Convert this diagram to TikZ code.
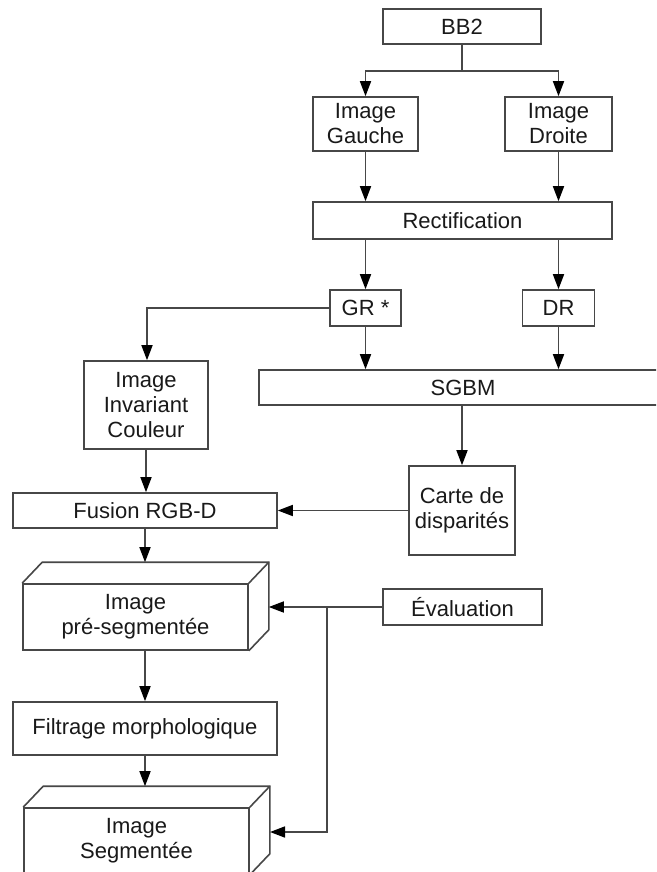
\documentclass[tikz,border=0pt]{standalone}
\usepackage{fontspec}
\setmainfont{Liberation Sans}
\usetikzlibrary{arrows.meta,calc}
\begin{document}
\begin{tikzpicture}[x=1pt,y=-1pt,
  box/.style={draw=black!72,line width=1.6pt,rectangle,inner sep=0pt,align=center,
    font=\fontsize{22}{25}\selectfont,text=black!90},
  arr/.style={draw=black!72,line width=1.6pt,-{Triangle[length=15pt,width=11pt,fill=black,color=black]}},
  ln/.style={draw=black!72,line width=1.6pt}]
\useasboundingbox (0,0) rectangle (656,872);
\clip (0,0) rectangle (656,872);
\fill[white] (0,0) rectangle (656,872);

\node[box,minimum width=158pt,minimum height=35pt] (bb2) at (462,26.5) {BB2};
\node[box,minimum width=105pt,minimum height=54pt] (ig) at (365.5,124) {Image\\Gauche};
\node[box,minimum width=107pt,minimum height=54pt] (id) at (558.5,124) {Image\\Droite};
\node[box,minimum width=299pt,minimum height=37pt] (rect) at (462.5,220.5) {Rectification};
\node[box,minimum width=71pt,minimum height=36pt] (gr) at (365.5,308) {GR *};
\node[box,minimum width=72pt,minimum height=36pt] (dr) at (558.5,308) {DR};
\node[box,minimum width=408pt,minimum height=35pt] (sgbm) at (463,387.5) {SGBM};
\node[box,minimum width=124pt,minimum height=88pt] (iic) at (146,405) {Image\\Invariant\\Couleur};
\node[box,minimum width=106pt,minimum height=89pt] (carte) at (462,510.5) {Carte de\\disparités};
\node[box,minimum width=264pt,minimum height=35pt] (fus) at (145,510.5) {Fusion RGB-D};
\node[box,minimum width=225pt,minimum height=66pt] (pre) at (135.5,617) {Image\\pré-segmentée};
\node[box,minimum width=159pt,minimum height=36pt] (eval) at (462.5,607) {Évaluation};
\node[box,minimum width=264pt,minimum height=53pt] (filt) at (145,728.5) {Filtrage morphologique};
\node[box,minimum width=225pt,minimum height=66pt] (seg) at (136.5,841) {Image\\Segmentée};

% 3D faces
\foreach \n in {pre,seg}{
  \draw[ln,line join=miter] (\n.north west) -- ([shift={(20,-21)}]\n.north west) -- ([shift={(20,-21)}]\n.north east) -- ([shift={(20,-21)}]\n.south east) -- (\n.south east);
  \draw[ln] (\n.north east) -- ([shift={(20,-21)}]\n.north east);
}
\coordinate (pretop) at ([shift={(20,-21)}]pre.north east);
\coordinate (segtop) at ([shift={(20,-21)}]seg.north east);
\coordinate (split) at (462,71);
\coordinate (jn) at (327,607);
\coordinate (segin) at (270,832);
\coordinate (grcorner) at (147,308);

\draw[ln] (bb2.south) -- (split);
\draw[arr] (split) -| (ig.north);
\draw[arr] (split) -| (id.north);
\draw[arr] (ig.south) -- (ig.south |- rect.north);
\draw[arr] (id.south) -- (id.south |- rect.north);
\draw[arr] (ig.south |- rect.south) -- (gr.north);
\draw[arr] (dr.north |- rect.south) -- (dr.north);
\draw[arr] (gr.south) -- (gr.south |- sgbm.north);
\draw[arr] (dr.south) -- (dr.south |- sgbm.north);
\draw[arr] (gr.west) -- (grcorner) -- (grcorner |- iic.north);
\draw[arr] (sgbm.south -| carte.north) -- (carte.north);
\draw[arr] (carte.west) -- (fus.east |- carte.west);
\draw[arr] (iic.south) -- (iic.south |- fus.north);
\draw[arr] (fus.south) -- (fus.south |- pretop);
\draw[arr] (eval.west) -- (eval.west -| pretop);
\draw[arr] (jn) |- (segin);
\draw[arr] (pre.south -| fus.south) -- (fus.south |- filt.north);
\draw[arr] (filt.south) -- (filt.south |- segtop);
\end{tikzpicture}
\end{document}
